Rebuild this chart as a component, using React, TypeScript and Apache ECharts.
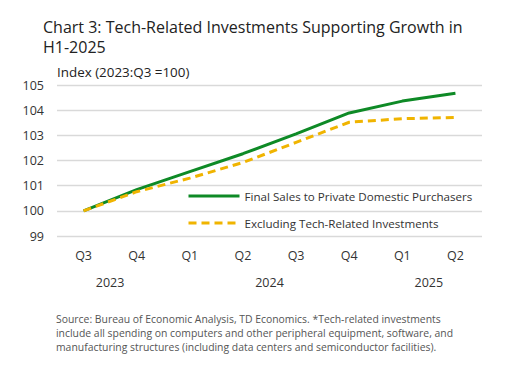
import React, { useEffect, useRef } from "react";
import * as echarts from "echarts";

const quarters = ["Q3", "Q4", "Q1", "Q2", "Q3", "Q4", "Q1", "Q2"];
const years = [
  { label: "2023", from: 0, to: 1 },
  { label: "2024", from: 2, to: 5 },
  { label: "2025", from: 6, to: 7 },
];
const finalSales = [100, 100.84, 101.56, 102.27, 103.06, 103.89, 104.36, 104.67];
const exTech = [100, 100.76, 101.3, 101.92, 102.72, 103.52, 103.66, 103.71];
const yTicks = { min: 99, max: 105, interval: 1 };

const titleText = "Chart 3: Tech-Related Investments Supporting Growth in\nH1-2025";
const unitText = "Index (2023:Q3 =100)";
const footnote =
  "Source: Bureau of Economic Analysis, TD Economics. *Tech-related investments\n" +
  "include all spending on computers and other peripheral equipment, software, and\n" +
  "manufacturing structures (including data centers and semiconductor facilities).";

const FONT = "'Open Sans', sans-serif";

export default function App() {
  const ref = useRef<HTMLDivElement>(null);
  useEffect(() => {
    if (!ref.current) return;
    const chart = echarts.init(ref.current, undefined, { renderer: "svg" });
    chart.setOption({
      animation: false,
      backgroundColor: "#ffffff",
      textStyle: { fontFamily: FONT },
      title: {
        text: titleText,
        left: 38,
        top: 12,
        textStyle: { fontSize: 16, fontWeight: "normal", color: "#222", lineHeight: 20, fontFamily: FONT },
      },
      grid: { left: 57, right: 47, top: 85, bottom: 130, containLabel: false },
      legend: {
        orient: "vertical",
        left: 182,
        top: 185,
        padding: 5,
        itemWidth: 51,
        itemHeight: 14,
        itemGap: 15,
        itemStyle: { opacity: 0 },
        lineStyle: { width: 3 },
        textStyle: { fontSize: 11.6, color: "#333", fontFamily: FONT },
        data: ["Final Sales to Private Domestic Purchasers", "Excluding Tech-Related Investments"],
      },
      xAxis: {
        type: "category",
        data: quarters,
        boundaryGap: true,
        axisLine: { show: false },
        axisTick: { show: false },
        axisLabel: { fontSize: 12.5, color: "#333", margin: 13, fontFamily: FONT },
      },
      yAxis: {
        type: "value",
        min: yTicks.min,
        max: yTicks.max,
        interval: yTicks.interval,
        axisLine: { show: false },
        axisTick: { show: false },
        axisLabel: { fontSize: 12.5, color: "#333", margin: 13, fontFamily: FONT },
        splitLine: { lineStyle: { color: "#d9d9d9", width: 1.3 } },
      },
      series: [
        {
          name: "Final Sales to Private Domestic Purchasers",
          type: "line",
          data: finalSales,
          symbol: "none",
          lineStyle: { color: "#0e8a26", width: 3 },
          itemStyle: { color: "#0e8a26" },
          z: 3,
        },
        {
          name: "Excluding Tech-Related Investments",
          type: "line",
          data: exTech,
          symbol: "none",
          lineStyle: { color: "#f0b400", width: 3, type: [8, 5] },
          itemStyle: { color: "#f0b400" },
          z: 4,
        },
      ],
    });
    const yearTexts = years.map((y) => {
      const a = chart.convertToPixel({ xAxisIndex: 0 }, y.from) as number;
      const b = chart.convertToPixel({ xAxisIndex: 0 }, y.to) as number;
      return {
        type: "text",
        x: (a + b) / 2,
        y: 282,
        style: { text: y.label, fontSize: 12.5, fill: "#333", align: "center", verticalAlign: "middle", fontFamily: FONT },
      };
    });
    chart.setOption({
      graphic: [
        {
          type: "text",
          x: 57,
          y: 72,
          style: { text: unitText, fontSize: 13.4, fill: "#222", verticalAlign: "middle", fontFamily: FONT },
        },
        ...yearTexts,
        {
          type: "text",
          x: 56,
          y: 312,
          style: { text: footnote, fontSize: 10.4, lineHeight: 14, fill: "#555", fontFamily: FONT },
        },
      ],
    });
    return () => chart.dispose();
  }, []);
  return <div ref={ref} style={{ width: 529, height: 366, margin: -8 }} />;
}
